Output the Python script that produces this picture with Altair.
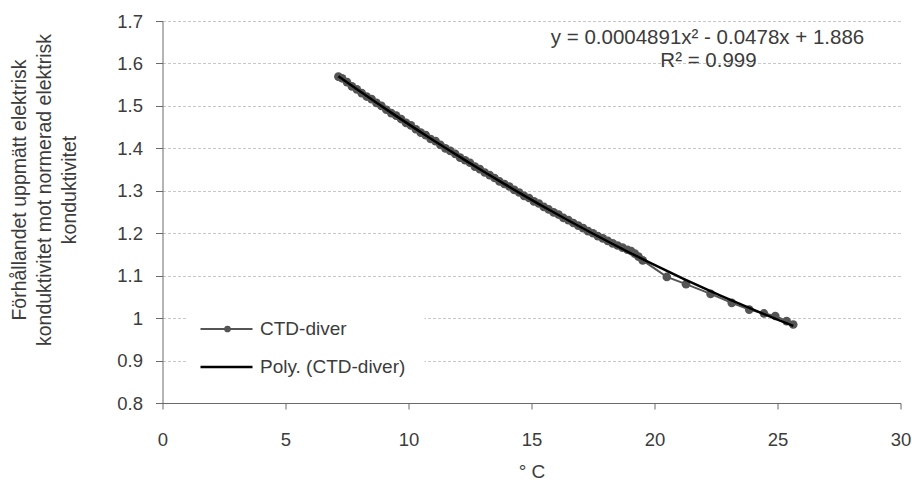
import altair as alt
import pandas as pd

# ---- data ----
temp_c = [7.15, 7.3, 7.5, 7.7, 7.9, 8.1, 8.3, 8.5, 8.7, 8.9, 9.1, 9.3, 9.5, 9.7, 9.9,
          10.1, 10.3, 10.5, 10.7, 10.9, 11.1, 11.3, 11.5, 11.7, 11.9, 12.1, 12.3, 12.5,
          12.7, 12.9, 13.1, 13.3, 13.5, 13.7, 13.9, 14.1, 14.3, 14.5, 14.7, 14.9, 15.1,
          15.3, 15.5, 15.7, 15.9, 16.1, 16.3, 16.5, 16.7, 16.9, 17.1, 17.3, 17.5, 17.7,
          17.9, 18.1, 18.3, 18.5, 18.7, 18.9, 19.05, 19.2, 19.35, 19.52, 20.5, 21.28,
          22.28, 23.14, 23.85, 24.45, 24.91, 25.37, 25.64]
ratio = [1.569, 1.565, 1.556, 1.546, 1.539, 1.530, 1.522, 1.516, 1.507, 1.500, 1.491,
         1.483, 1.477, 1.469, 1.460, 1.454, 1.445, 1.437, 1.431, 1.422, 1.417, 1.408,
         1.400, 1.394, 1.387, 1.378, 1.372, 1.366, 1.357, 1.351, 1.343, 1.337, 1.330,
         1.322, 1.316, 1.310, 1.302, 1.296, 1.288, 1.283, 1.275, 1.270, 1.262, 1.256,
         1.249, 1.244, 1.236, 1.231, 1.224, 1.218, 1.212, 1.205, 1.200, 1.193, 1.188,
         1.182, 1.176, 1.171, 1.166, 1.161, 1.158, 1.152, 1.145, 1.136, 1.097, 1.080,
         1.057, 1.036, 1.020, 1.011, 1.005, 0.993, 0.985]

series_name = "CTD-diver"
trend_name = "Poly. (CTD-diver)"
equation_lines = ["y = 0.0004891x² - 0.0478x  +  1.886", "R² = 0.999"]
x_ticks = [0, 5, 10, 15, 20, 25, 30]
y_ticks = [0.8, 0.9, 1.0, 1.1, 1.2, 1.3, 1.4, 1.5, 1.6, 1.7]
x_title = "° C"
y_title = ["Förhållandet uppmätt elektrisk",
           "konduktivitet mot normerad elektrisk",
           "konduktivitet"]

FONT = "Liberation Sans"
FS = 18.5
TXT = "#3c3c3c"
AX = "#6a6a6a"
SERIES = "#555555"

df = pd.DataFrame({"t": temp_c, "r": ratio})

x_enc = alt.X(
    "t:Q",
    scale=alt.Scale(domain=[0, 30], nice=False, zero=False),
    axis=alt.Axis(values=x_ticks, title=x_title, grid=False,
                  domainColor=AX, tickColor=AX, tickSize=6, labelPadding=21,
                  labelFont=FONT, labelFontSize=FS, labelColor=TXT,
                  labelFlush=False, labelOverlap=False,
                  titleFont=FONT, titleFontSize=19, titleFontWeight="normal",
                  titleColor=TXT, titleBaseline="top", titleY=59),
)
y_enc = alt.Y(
    "r:Q",
    scale=alt.Scale(domain=[0.8, 1.7], nice=False, zero=False),
    axis=alt.Axis(values=y_ticks, title=None, grid=True,
                  gridColor="#c8c8c8", gridDash=[3, 2], gridWidth=1,
                  domainColor=AX, tickColor=AX, tickSize=7, labelPadding=13,
                  labelFont=FONT, labelFontSize=FS, labelColor=TXT,
                  labelFlush=False, labelOverlap=False,
                  labelExpr="format(datum.value, '.1~f')"),
)

base = alt.Chart(df)
series_line = base.mark_line(color=SERIES, strokeWidth=2).encode(x=x_enc, y=y_enc)
series_pts = base.mark_circle(color=SERIES, size=75, opacity=1).encode(x="t:Q", y="r:Q")
trend = (base.transform_regression("t", "r", method="poly", order=2)
         .mark_line(color="black", strokeWidth=2.5)
         .encode(x="t:Q", y="r:Q"))

title_df = pd.DataFrame({"line": y_title, "row": [0, 1, 2]})
title_layers = []
for i, xp in enumerate([-142.5, -117.5, -92.5]):
    title_layers.append(
        alt.Chart(title_df).transform_filter(f"datum.row == {i}").mark_text(
            font=FONT, fontSize=19.5, color=TXT, align="center", baseline="middle", angle=270
        ).encode(x=alt.value(xp), y=alt.value(169), text="line:N")
    )

eq_df = pd.DataFrame({"line": equation_lines, "row": [0, 1]})
eq1 = alt.Chart(eq_df).transform_filter("datum.row == 0").mark_text(
    font=FONT, fontSize=20.5, color=TXT, align="center", baseline="middle"
).encode(x=alt.value(545), y=alt.value(17), text="line:N")
eq2 = alt.Chart(eq_df).transform_filter("datum.row == 1").mark_text(
    font=FONT, fontSize=20.5, color=TXT, align="center", baseline="middle"
).encode(x=alt.value(546), y=alt.value(40), text="line:N")

leg_df = pd.DataFrame({"label": [series_name, trend_name], "row": [0, 1]})
leg_bg = alt.Chart(leg_df).transform_filter("datum.row == 0").mark_rect(
    fill="white").encode(x=alt.value(25), x2=alt.value(262), y=alt.value(284), y2=alt.value(362))
leg_rule1 = alt.Chart(leg_df).transform_filter("datum.row == 0").mark_rule(
    color=SERIES, strokeWidth=2).encode(x=alt.value(38), x2=alt.value(90), y=alt.value(308))
leg_dot = alt.Chart(leg_df).transform_filter("datum.row == 0").mark_circle(
    color=SERIES, size=45, opacity=1).encode(x=alt.value(65), y=alt.value(308))
leg_rule2 = alt.Chart(leg_df).transform_filter("datum.row == 1").mark_rule(
    color="black", strokeWidth=2.5).encode(x=alt.value(38), x2=alt.value(90), y=alt.value(346))
leg_txt1 = alt.Chart(leg_df).transform_filter("datum.row == 0").mark_text(
    font=FONT, fontSize=19, color=TXT, align="left", baseline="middle"
).encode(x=alt.value(97.5), y=alt.value(308), text="label:N")
leg_txt2 = alt.Chart(leg_df).transform_filter("datum.row == 1").mark_text(
    font=FONT, fontSize=19, color=TXT, align="left", baseline="middle"
).encode(x=alt.value(97.5), y=alt.value(346), text="label:N")

chart = alt.layer(
    series_line, series_pts, trend, eq1, eq2, *title_layers,
    leg_bg, leg_rule1, leg_dot, leg_rule2, leg_txt1, leg_txt2,
).properties(
    width=738, height=382,
    autosize=alt.AutoSizeParams(type="none"),
    padding={"left": 162.5, "top": 21, "right": 11.5, "bottom": 77},
    background="white",
).configure_view(stroke=None)

chart.save("out.html", embed_options={"renderer": "svg", "actions": False})
